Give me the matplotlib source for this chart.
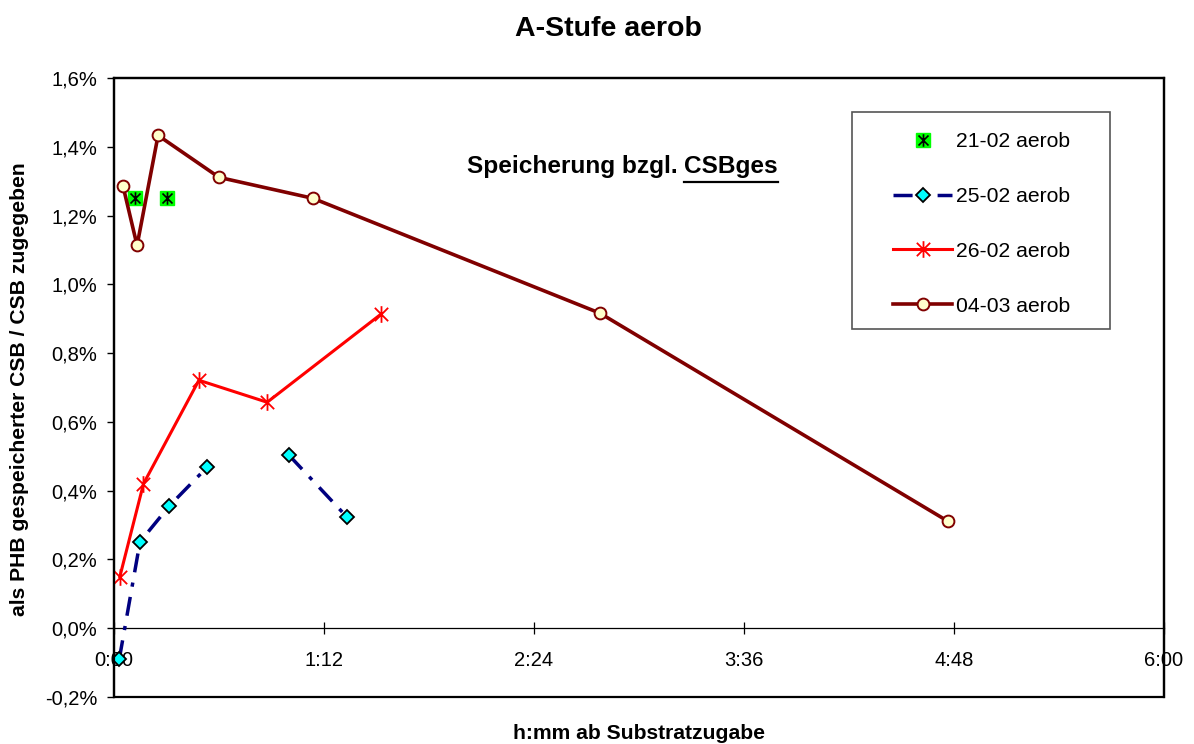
import numpy as np
import matplotlib
matplotlib.use("Agg")
import matplotlib.pyplot as plt
from matplotlib.path import Path
from matplotlib.lines import Line2D
from matplotlib.patches import Rectangle
from matplotlib.ticker import FixedLocator, FuncFormatter

plt.rcParams['font.family'] = ['Liberation Sans', 'DejaVu Sans']

# minutes after substrate dosing, stored PHB in % of dosed COD
t_2102 = [7.2, 18.0]
y_2102 = [1.25, 1.25]

t_2502 = [1.8, 8.9, 18.9, 32.0, np.nan, 60.0, 80.0]
y_2502 = [-0.09, 0.251, 0.355, 0.469, np.nan, 0.503, 0.322]

t_2602 = [2.0, 10.1, 29.1, 52.5, 91.5]
y_2602 = [0.15, 0.42, 0.721, 0.657, 0.913]

t_0403 = [3.1, 7.9, 15.1, 36.0, 68.2, 166.6, 285.9]
y_0403 = [1.285, 1.113, 1.433, 1.311, 1.25, 0.916, 0.311]

labels = ['21-02 aerob', '25-02 aerob', '26-02 aerob', '04-03 aerob']
x_ticks = [0, 72, 144, 216, 288, 360]
y_ticks = [-0.2, 0.0, 0.2, 0.4, 0.6, 0.8, 1.0, 1.2, 1.4, 1.6]

# Excel style star: vertical bar plus an X
star = Path([(0, -1), (0, 1), (-0.8, -0.8), (0.8, 0.8), (-0.8, 0.8), (0.8, -0.8)],
            [Path.MOVETO, Path.LINETO, Path.MOVETO, Path.LINETO, Path.MOVETO, Path.LINETO])

fig = plt.figure(figsize=(11.94, 7.44), dpi=100)
ax = fig.add_axes([0.0955, 0.0632, 0.8794, 0.832])

sq, = ax.plot(t_2102, y_2102, ls='none', marker='s', ms=10.5, mfc='#00FF00', mec='#00FF00', zorder=3)
st, = ax.plot(t_2102, y_2102, ls='none', marker=star, ms=9, mec='black', mew=1.2, zorder=4)
l2, = ax.plot(t_2502, y_2502, color='#000080', lw=2.5, ls=(0, (5.5, 3, 1.2, 3)),
              marker='D', ms=7, mfc='#00FFFF', mec='black', mew=1.3, zorder=3)
l3, = ax.plot(t_2602, y_2602, color='#FF0000', lw=2.2, marker=star, ms=12,
              mec='#FF0000', mew=1.3, zorder=3)
l4, = ax.plot(t_0403, y_0403, color='#800000', lw=2.6, marker='o', ms=8.5,
              mfc='#FFFFCC', mec='#800000', mew=1.4, zorder=3)

ax.set_xlim(0, 360)
ax.set_ylim(-0.2, 1.6)
ax.xaxis.set_major_locator(FixedLocator(x_ticks))
ax.xaxis.set_major_formatter(FuncFormatter(lambda m, p: f"{int(m // 60)}:{int(round(m % 60)):02d}"))
ax.yaxis.set_major_locator(FixedLocator(y_ticks))
ax.yaxis.set_major_formatter(FuncFormatter(lambda v, p: f"{v:.1f}%".replace('.', ',')))

# x axis crosses at zero, plot area keeps a closed frame
ax.spines['bottom'].set_position(('data', 0))
ax.spines['bottom'].set_linewidth(0.9)
for s in ['left', 'top', 'right']:
    ax.spines[s].set_linewidth(1.6)
ax.add_patch(Rectangle((0, 0), 1, 1, transform=ax.transAxes, fill=False,
                       lw=1.6, ec='black', clip_on=False, zorder=5))

ax.tick_params(axis='x', direction='inout', length=9, width=0.9, pad=12, labelsize=14.5)
ax.tick_params(axis='y', direction='out', length=5, width=1, pad=7, labelsize=14.5)

fig.text(608 / 1194, 1 - 36 / 744, 'A-Stufe aerob', ha='center', va='baseline',
         fontsize=20.5, fontweight='bold')
fig.text(20 / 1194, 1 - 389 / 744, 'als PHB gespeicherter CSB / CSB zugegeben',
         rotation=90, ha='center', va='center', fontsize=15.2, fontweight='bold')
fig.text(513 / 1194, 1 - 739 / 744, 'h:mm ab Substratzugabe', ha='left', va='baseline',
         fontsize=15.2, fontweight='bold')

t1 = fig.text(467 / 1194, 1 - 173 / 744, 'Speicherung bzgl. ', ha='left', va='baseline',
              fontsize=17.6, fontweight='bold')
fig.canvas.draw()
r = fig.canvas.get_renderer()
b1 = t1.get_window_extent(r)
t2 = fig.text(b1.x1 / 1194, 1 - 173 / 744, 'CSBges', ha='left', va='baseline',
              fontsize=17.6, fontweight='bold')
b2 = t2.get_window_extent(r)
uy = (744 - 182) / 744
fig.add_artist(Line2D([b2.x0 / 1194, b2.x1 / 1194], [uy, uy], color='black', lw=1.6,
                      transform=fig.transFigure))

# legend with a separate box
fig.add_artist(Rectangle((852 / 1194, 1 - 329 / 744), 258 / 1194, 217 / 744,
                         transform=fig.transFigure, fill=False, ec='#555555', lw=1.2))
fig.legend([(sq, st), l2, l3, l4], labels, loc='upper left',
           bbox_to_anchor=(893 / 1194, 1 - 132 / 744), frameon=False,
           fontsize=15.2, borderpad=0, borderaxespad=0, handlelength=2.8,
           handletextpad=0.2, labelspacing=1.7)

fig.savefig('out.png', dpi=100)
